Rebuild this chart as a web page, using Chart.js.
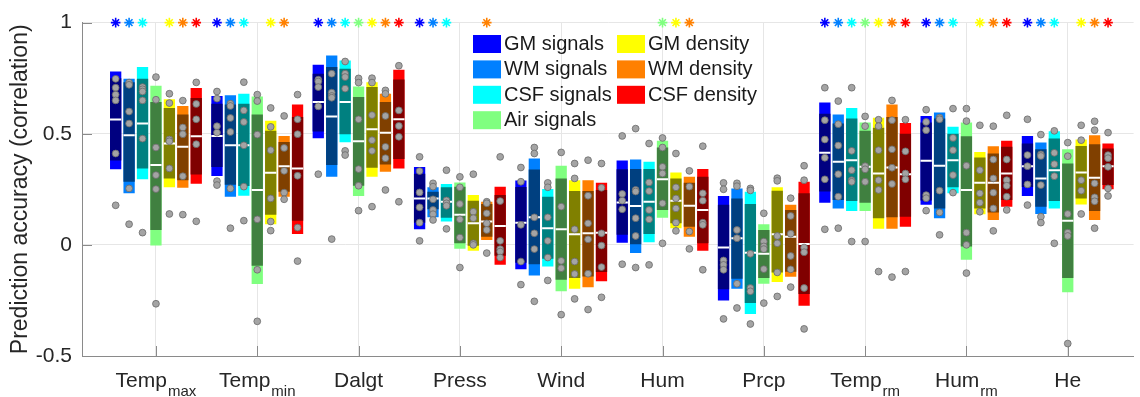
<!DOCTYPE html>
<html>
<head>
<meta charset="utf-8">
<script src="https://cdn.jsdelivr.net/npm/chart.js@4.4.1/dist/chart.umd.min.js"></script>
<style>
  html, body { margin: 0; padding: 0; background: #fff; }
</style>
</head>
<body>
<canvas id="chart" width="1140" height="397"></canvas>
<script>
// x labels: main text + subscript
const labelMain = ['Temp', 'Temp', 'Dalgt', 'Press', 'Wind', 'Hum', 'Prcp', 'Temp', 'Hum', 'He'];
const labelSub  = ['max', 'min', '', '', '', '', '', 'rm', 'rm', ''];
const seriesNames = ['GM signals', 'WM signals', 'CSF signals', 'Air signals', 'GM density', 'WM density', 'CSF density'];
const yTicks = [-0.5, 0, 0.5, 1];

// GM signals
const gmSigOuter = [[0.34,0.78],[0.31,0.67],[0.48,0.81],[0.07,0.35],[-0.11,0.29],[0.01,0.38],[-0.25,0.22],[0.19,0.64],[0.18,0.58],[0.22,0.49]];
const gmSigInner = [[0.38,0.75],[0.35,0.635],[0.51,0.77],[0.10,0.32],[-0.08,0.26],[0.045,0.34],[-0.20,0.18],[0.24,0.59],[0.20,0.55],[0.26,0.456]];
const gmSigMedian = [0.564,0.49,0.643,0.209,0.10,0.191,-0.012,0.414,0.378,0.354];
const gmSigDots = [[0.747,0.707,0.676,0.65,0.411,0.178],[0.69,0.658,0.534,0.505,0.287,0.269],[0.743,0.735,0.71,0.623,0.318],[0.396,0.332,0.236,0.169,0.10,0.018],[0.348,0.284,0.09,-0.075,-0.179],[0.49,0.229,0.199,0.16,-0.087],[0.279,0.25,-0.07,-0.09,-0.112,-0.333],[0.707,0.561,0.474,0.392,0.295,0.07],[0.608,0.553,0.516,0.224,0.21,0.154],[0.565,0.404,0.354,0.272,0.179]];
const gmSigStar = [1,1,1,1,0,0,0,1,1,1];

// WM signals
const wmSigOuter = [[0.232,0.747],[0.217,0.673],[0.306,0.852],[0.124,0.259],[-0.138,0.389],[-0.037,0.384],[-0.197,0.254],[0.164,0.586],[0.12,0.595],[0.139,0.46]];
const wmSigInner = [[0.284,0.732],[0.27,0.631],[0.359,0.80],[0.16,0.239],[-0.087,0.339],[0.0,0.341],[-0.152,0.209],[0.202,0.546],[0.164,0.568],[0.172,0.43]];
const wmSigMedian = [0.493,0.448,0.578,0.209,0.124,0.175,0.03,0.374,0.356,0.299];
const wmSigDots = [[0.73,0.72,0.60,0.546,0.254,0.093],[0.635,0.625,0.571,0.508,0.254,0.075],[0.77,0.685,0.67,0.662,0.026],[0.277,0.262,0.205,0.157,0.138,0.112],[0.438,0.411,0.124,0.052,-0.019,-0.254],[0.523,0.247,0.24,0.12,0.04,-0.102],[0.277,0.264,0.067,0.03,-0.175,-0.284],[0.647,0.543,0.447,0.318,0.217,0.075],[0.572,0.565,0.244,0.146,0.045],[0.496,0.407,0.40,0.269,0.127,0.1]];
const wmSigStar = [1,1,1,1,0,0,0,1,1,1];

// CSF signals
const csfSigOuter = [[0.295,0.80],[0.221,0.68],[0.462,0.83],[0.105,0.274],[-0.097,0.251],[0.012,0.374],[-0.311,0.239],[0.152,0.616],[0.232,0.531],[0.164,0.511]];
const csfSigInner = [[0.344,0.747],[0.265,0.635],[0.498,0.792],[0.122,0.259],[-0.063,0.217],[0.049,0.341],[-0.262,0.184],[0.197,0.568],[0.259,0.5],[0.197,0.478]];
const csfSigMedian = [0.546,0.448,0.643,0.194,0.075,0.194,-0.035,0.381,0.381,0.336];
const csfSigDots = [[0.71,0.70,0.69,0.65,0.478,0.055],[0.732,0.605,0.553,0.448,0.262,0.109],[0.825,0.77,0.755,0.703,0.423,0.404],[0.336,0.20,0.187,0.176,0.072],[0.279,0.259,0.124,0.018,-0.057,-0.16],[0.456,0.281,0.242,0.157,0.115,-0.09],[0.254,0.245,-0.04,-0.194,-0.209,-0.356],[0.707,0.423,0.336,0.291,0.284,0.015],[0.613,0.481,0.426,0.314,0.235],[0.513,0.414,0.363,0.309,0.007]];
const csfSigStar = [1,1,1,1,0,0,0,1,1,1];

// Air signals
const airSigOuter = [[-0.003,0.716],[-0.176,0.668],[0.22,0.713],[-0.018,0.281],[-0.209,0.356],[0.122,0.468],[-0.175,0.093],[0.152,0.55],[-0.067,0.55],[-0.213,0.43]];
const airSigInner = [[0.067,0.643],[-0.094,0.586],[0.266,0.665],[0.007,0.262],[-0.157,0.299],[0.157,0.438],[-0.149,0.067],[0.19,0.513],[-0.007,0.489],[-0.149,0.366]];
const airSigMedian = [0.359,0.247,0.466,0.135,0.07,0.295,-0.04,0.351,0.247,0.109];
const airSigDots = [[0.755,0.653,0.438,0.314,0.251,-0.265],[0.676,0.647,0.496,0.115,-0.112,-0.344],[0.749,0.73,0.565,0.341,0.266,0.154],[0.306,0.259,0.184,0.115,0.033,-0.102],[0.416,0.172,-0.072,-0.105,-0.314],[0.481,0.438,0.351,0.321,0.187,0.007],[0.142,0.015,-0.007,-0.019,-0.109,-0.262],[0.578,0.534,0.354,0.34,0.284,0.015],[0.613,0.557,0.356,0.055,0.0,-0.127],[0.46,0.399,0.139,0.055,0.04,-0.444]];
const airSigStar = [0,0,1,0,0,1,0,1,0,0];

// GM density
const gmDenOuter = [[0.259,0.655],[0.093,0.558],[0.306,0.732],[-0.027,0.224],[-0.197,0.291],[0.075,0.326],[-0.167,0.259],[0.072,0.572],[0.138,0.418],[0.182,0.474]];
const gmDenInner = [[0.299,0.616],[0.135,0.513],[0.347,0.71],[-0.004,0.199],[-0.149,0.242],[0.097,0.299],[-0.124,0.244],[0.12,0.527],[0.164,0.393],[0.209,0.445]];
const gmDenMedian = [0.456,0.324,0.52,0.097,0.048,0.199,0.048,0.321,0.279,0.326];
const gmDenDots = [[0.68,0.638,0.474,0.466,0.344,0.139],[0.616,0.531,0.426,0.209,0.105,0.064],[0.75,0.73,0.584,0.471,0.423,0.172],[0.318,0.149,0.12,0.007,0.0],[0.366,0.299,0.07,-0.075,-0.131,-0.243],[0.411,0.259,0.209,0.164,0.1,0.063],[0.3,0.288,0.04,0.007,-0.124,-0.232],[0.563,0.534,0.426,0.291,0.247,-0.12],[0.538,0.336,0.232,0.19,0.149],[0.538,0.471,0.291,0.244,0.139]];
const gmDenStar = [1,1,1,0,0,1,0,1,1,1];

// WM density
const wmDenOuter = [[0.257,0.625],[0.217,0.49],[0.329,0.68],[0.022,0.194],[-0.191,0.291],[0.037,0.306],[-0.143,0.18],[0.072,0.631],[0.112,0.444],[0.112,0.493]];
const wmDenInner = [[0.291,0.587],[0.239,0.463],[0.362,0.643],[0.037,0.184],[-0.142,0.242],[0.082,0.279],[-0.121,0.157],[0.124,0.575],[0.146,0.411],[0.152,0.453]];
const wmDenMedian = [0.441,0.354,0.504,0.105,0.052,0.176,0.036,0.348,0.279,0.302];
const wmDenDots = [[0.649,0.528,0.498,0.309,0.136],[0.58,0.436,0.333,0.235,0.205],[0.695,0.68,0.58,0.441,0.39,0.247],[0.194,0.187,0.142,0.097,0.067,-0.037],[0.381,0.221,0.097,0.025,-0.13,-0.291],[0.333,0.262,0.06,-0.018],[0.21,0.13,0.05,-0.05,-0.11,-0.19],[0.65,0.561,0.43,0.347,0.274,-0.145],[0.534,0.384,0.299,0.235,0.164,0.063],[0.556,0.516,0.277,0.214,0.196,0.075]];
const wmDenStar = [1,1,1,1,0,1,0,1,1,1];

// CSF density
const csfDenOuter = [[0.275,0.706],[0.049,0.632],[0.344,0.788],[-0.09,0.261],[-0.164,0.279],[-0.026,0.341],[-0.274,0.284],[0.082,0.548],[0.172,0.468],[0.25,0.456]];
const csfDenInner = [[0.317,0.661],[0.109,0.575],[0.386,0.744],[-0.049,0.224],[-0.122,0.247],[0.007,0.306],[-0.221,0.232],[0.127,0.5],[0.202,0.441],[0.269,0.434]];
const csfDenMedian = [0.489,0.344,0.565,0.085,0.055,0.157,0.004,0.318,0.321,0.354];
const csfDenDots = [[0.731,0.634,0.565,0.453,0.106],[0.676,0.565,0.498,0.311,0.078,-0.073],[0.806,0.605,0.535,0.486,0.194],[0.396,0.197,0.018,-0.019,-0.03,-0.057],[0.366,0.257,0.052,-0.003,-0.1,-0.236],[0.444,0.232,0.199,0.1,0.09,-0.112],[0.356,0.291,-0.012,-0.033,-0.194,-0.378],[0.563,0.421,0.321,0.295,-0.12],[0.583,0.384,0.291,0.266,0.217,0.157],[0.505,0.404,0.39,0.351,0.254,0.22]];
const csfDenStar = [1,0,1,0,0,0,0,1,1,1];

const brightColors = ['#0000ff', '#0080ff', '#00ffff', '#80ff80', '#ffff00', '#ff8000', '#ff0000'];
const darkColors   = ['#000080', '#004080', '#008080', '#408040', '#808000', '#804000', '#800000'];

const series = [
  { outer: gmSigOuter,  inner: gmSigInner,  median: gmSigMedian,  dots: gmSigDots,  star: gmSigStar },
  { outer: wmSigOuter,  inner: wmSigInner,  median: wmSigMedian,  dots: wmSigDots,  star: wmSigStar },
  { outer: csfSigOuter, inner: csfSigInner, median: csfSigMedian, dots: csfSigDots, star: csfSigStar },
  { outer: airSigOuter, inner: airSigInner, median: airSigMedian, dots: airSigDots, star: airSigStar },
  { outer: gmDenOuter,  inner: gmDenInner,  median: gmDenMedian,  dots: gmDenDots,  star: gmDenStar },
  { outer: wmDenOuter,  inner: wmDenInner,  median: wmDenMedian,  dots: wmDenDots,  star: wmDenStar },
  { outer: csfDenOuter, inner: csfDenInner, median: csfDenMedian, dots: csfDenDots, star: csfDenStar }
];

const FONT = "'Liberation Sans', Arial, sans-serif";
const CAT_PCT = 0.928;
const BAR_PCT = 0.84;
const slot = CAT_PCT / seriesNames.length;
const xOff = s => (s - (seriesNames.length - 1) / 2) * slot;

Chart.defaults.font.family = FONT;
Chart.defaults.color = '#262626';

const datasets = [];
// bars: white median line on top of the dark inner box on top of the bright outer box
const layers = [['median', 1], ['inner', 2], ['outer', 3]];
for (const [layer, order] of layers) {
  series.forEach((sr, s) => {
    datasets.push({
      type: 'bar',
      label: seriesNames[s] + ' ' + layer,
      stack: 's' + s,
      order: order,
      categoryPercentage: CAT_PCT,
      barPercentage: BAR_PCT,
      borderWidth: 0,
      backgroundColor: layer === 'median' ? '#ffffff' : (layer === 'inner' ? darkColors[s] : brightColors[s]),
      data: labelMain.map((c, i) => ({
        x: i + 1,
        y: layer === 'median' ? [sr.median[i] - 0.0045, sr.median[i] + 0.0045] : sr[layer][i]
      }))
    });
  });
}

// individual points
series.forEach((sr, s) => {
  const pts = [];
  sr.dots.forEach((arr, i) => arr.forEach(v => pts.push({ x: i + 1 + xOff(s), y: v })));
  datasets.push({
    type: 'scatter',
    label: seriesNames[s] + ' points',
    order: 0,
    data: pts,
    pointRadius: 3.4,
    pointBackgroundColor: '#a4a4a4',
    pointBorderColor: '#6a6a6a',
    pointBorderWidth: 0.8
  });
});

// significance stars
series.forEach((sr, s) => {
  const pts = [];
  sr.star.forEach((f, i) => { if (f) pts.push({ x: i + 1 + xOff(s), y: 1 }); });
  datasets.push({
    type: 'scatter',
    label: seriesNames[s] + ' significant',
    order: 0,
    clip: false,
    data: pts,
    pointStyle: 'star',
    pointRadius: 4.8,
    pointBorderColor: brightColors[s],
    pointBackgroundColor: brightColors[s],
    pointBorderWidth: 1.6
  });
});

const decorations = {
  id: 'decorations',
  beforeDatasetsDraw(chart) {
    const { ctx, chartArea, scales } = chart;
    ctx.save();
    ctx.strokeStyle = '#8a8a8a';
    ctx.lineWidth = 1;
    ctx.beginPath();
    labelMain.forEach((c, i) => {
      const px = Math.round(scales.x.getPixelForValue(i + 1)) + 0.5;
      ctx.moveTo(px, chartArea.bottom);
      ctx.lineTo(px, chartArea.bottom - 10);
    });
    yTicks.forEach(v => {
      const py = Math.round(scales.y.getPixelForValue(v)) + 0.5;
      ctx.moveTo(chartArea.left, py);
      ctx.lineTo(chartArea.left + 10, py);
    });
    ctx.stroke();
    ctx.restore();
  },
  afterDraw(chart) {
    const { ctx, scales } = chart;
    ctx.save();
    ctx.fillStyle = '#262626';
    ctx.textAlign = 'left';
    ctx.textBaseline = 'alphabetic';
    // category labels with subscripts
    labelMain.forEach((main, i) => {
      const px = scales.x.getPixelForValue(i + 1);
      ctx.font = '21px ' + FONT;
      const wMain = ctx.measureText(main).width;
      ctx.font = '15px ' + FONT;
      const wSub = labelSub[i] ? ctx.measureText(labelSub[i]).width + 1 : 0;
      const x0 = px - (wMain + wSub) / 2;
      ctx.font = '21px ' + FONT;
      ctx.fillText(main, x0, 387);
      if (labelSub[i]) {
        ctx.font = '15px ' + FONT;
        ctx.fillText(labelSub[i], x0 + wMain + 1, 396);
      }
    });
    // legend, two columns
    ctx.font = '20px ' + FONT;
    ctx.textBaseline = 'middle';
    seriesNames.forEach((name, s) => {
      const col = s < 4 ? 0 : 1;
      const row = s < 4 ? s : s - 4;
      const x = col === 0 ? 473 : 617;
      const y = 35 + row * 25.4;
      ctx.fillStyle = brightColors[s];
      ctx.fillRect(x, y, 28, 18);
      ctx.fillStyle = '#1a1a1a';
      ctx.fillText(name, x + 31, y + 9.5);
    });
    ctx.restore();
  }
};

new Chart(document.getElementById('chart'), {
  type: 'bar',
  data: { datasets },
  options: {
    responsive: false,
    animation: false,
    events: [],
    layout: { padding: { top: 22, right: 1, left: 0, bottom: 0 } },
    plugins: { legend: { display: false }, tooltip: { enabled: false } },
    scales: {
      x: {
        type: 'linear',
        stacked: true,
        offset: false,
        min: 0.27,
        max: 10.65,
        afterBuildTicks: scale => { scale.ticks = labelMain.map((c, i) => ({ value: i + 1 })); },
        afterFit: scale => { scale.height = 41; },
        ticks: { display: false },
        grid: { color: '#e6e6e6', drawTicks: false, offset: false },
        border: { color: '#8a8a8a' }
      },
      y: {
        type: 'linear',
        stacked: false,
        min: -0.5,
        max: 1,
        afterBuildTicks: scale => { scale.ticks = yTicks.map(v => ({ value: v })); },
        afterFit: scale => { scale.width = 82; },
        ticks: { font: { size: 21 }, padding: 10, color: '#262626', callback: v => String(v) },
        grid: { color: '#e6e6e6', drawTicks: false },
        border: { color: '#8a8a8a' },
        title: {
          display: true,
          text: 'Prediction accuracy (correlation)',
          font: { size: 23 },
          color: '#262626',
          padding: { top: 7, bottom: 0 }
        }
      }
    }
  },
  plugins: [decorations]
});
</script>
</body>
</html>
